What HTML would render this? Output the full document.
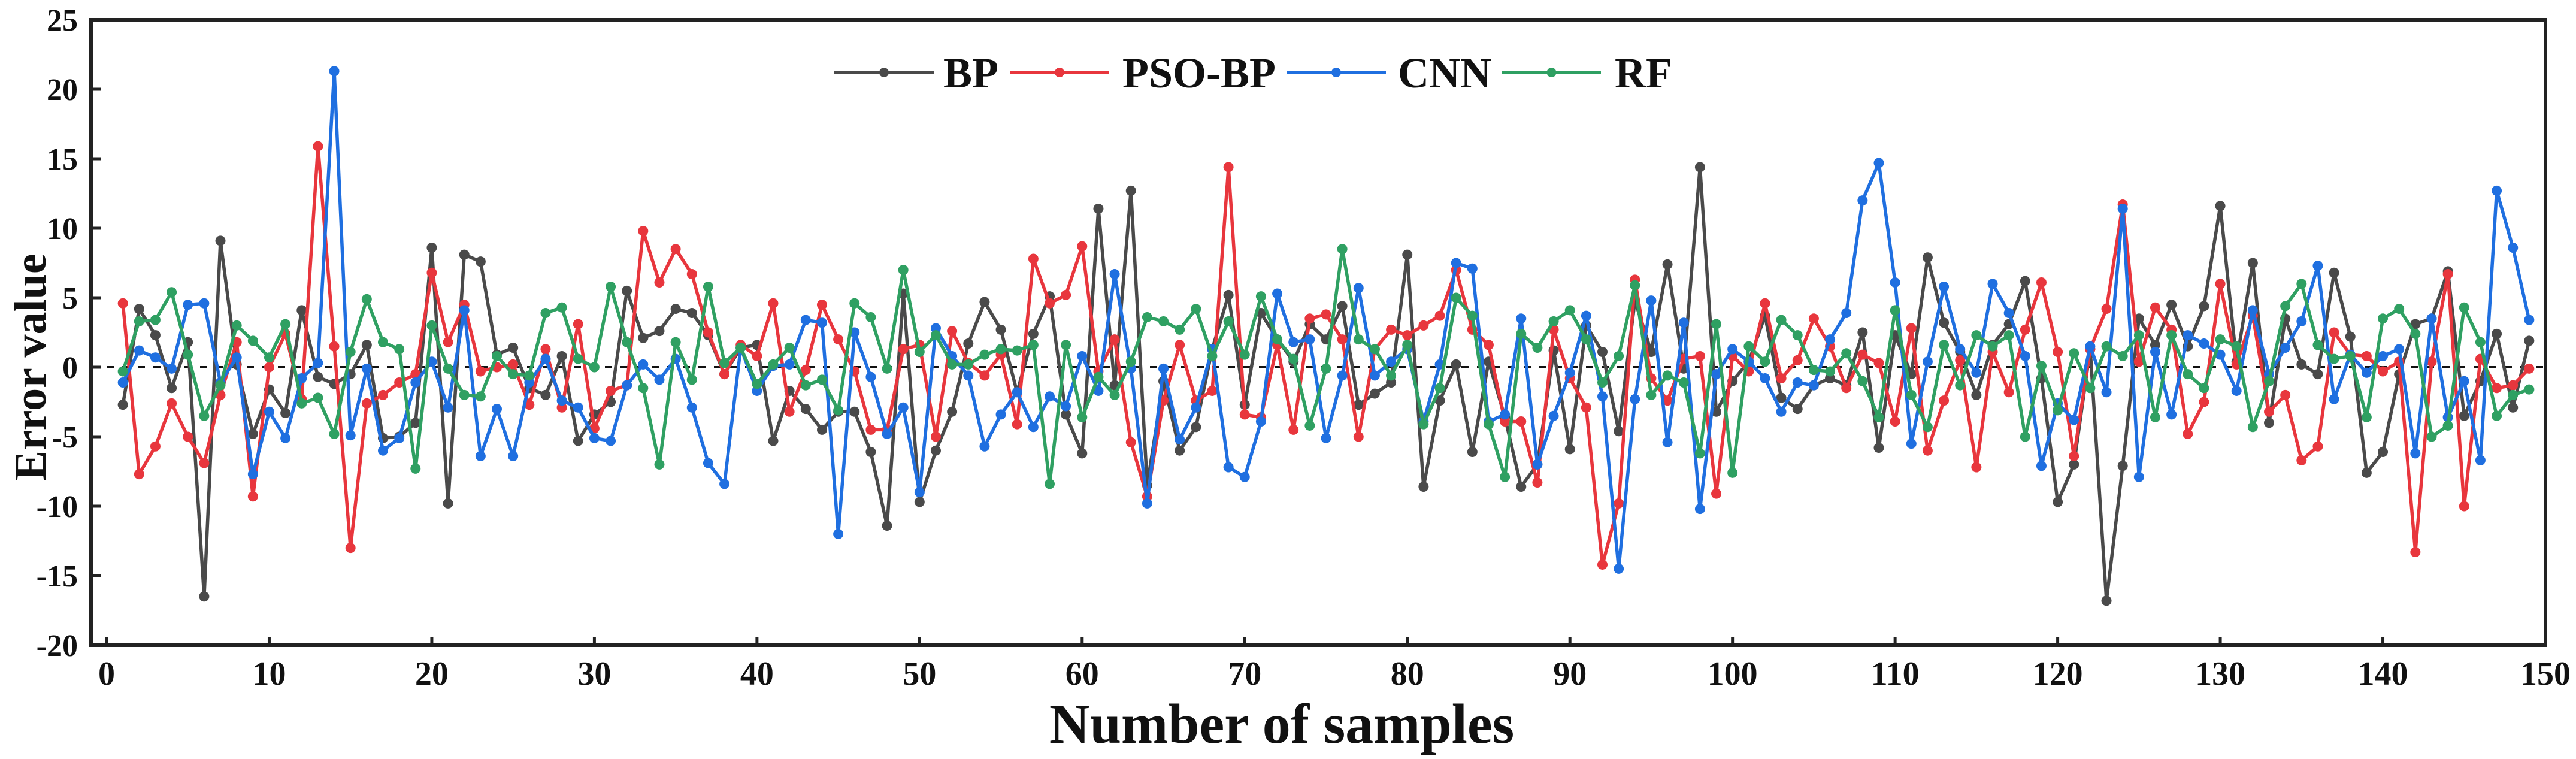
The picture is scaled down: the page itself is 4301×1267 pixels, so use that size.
<!DOCTYPE html>
<html><head><meta charset="utf-8">
<style>
html,body{margin:0;padding:0;background:#fff;}
svg{display:block;font-family:"Liberation Serif",serif;font-weight:bold;}
</style></head>
<body>
<svg id="chart" width="4301" height="1267" viewBox="0 0 4301 1267" xmlns="http://www.w3.org/2000/svg">
<rect width="4301" height="1267" fill="#fff"/>
<g id="axes"></g>
<g id="series"></g>
<g id="legend"></g>
</svg>
<script>
const samples = Array.from({length:149},(_, i)=>i+1);
const bpValues = [-2.7,4.2,2.3,-1.5,1.8,-16.5,9.1,0.2,-4.8,-1.6,-3.3,4.1,-0.7,-1.2,-0.5,1.6,-5.1,-5,-4,8.6,-9.8,8.1,7.6,0.9,
1.4,-1.5,-2,0.8,-5.3,-3.4,-2.5,5.5,2.1,2.6,4.2,3.9,2.3,-0.5,1.4,1.6,-5.3,-1.7,-3,-4.5,-3.2,-3.2,-6.1,-11.4,5.3,
-9.7,-6,-3.2,1.7,4.7,2.7,-1.8,2.4,5.1,-3.4,-6.2,11.4,-1.3,12.7,-8.5,-1,-6,-4.3,1.3,5.2,-2.7,3.9,2,0.4,3.1,
2,4.4,-2.7,-1.9,-1.1,8.1,-8.6,-2.4,0.2,-6.1,0.4,-3.6,-8.6,-7,1.2,-5.9,3,1.1,-4.6,4.8,1.1,7.4,-0.1,14.4,-3.2,
-1,0.4,3.7,-2.2,-3,-1.3,-0.8,-1.3,2.5,-5.8,2.3,-0.5,7.9,3.2,1.1,-2,1.6,3.1,6.2,-0.8,-9.7,-7,1.3,-16.8,
-7.1,3.5,1.6,4.5,1.5,4.4,11.6,0.4,7.5,-4,3.5,0.2,-0.5,6.8,2.2,-7.6,-6.1,-0.5,3.1,3.5,6.9,-3.5,-1,2.4,-2.9,1.9];
const psoValues = [4.6,-7.7,-5.7,-2.6,-5,-6.9,-2,1.8,-9.3,0,2.4,-2.3,15.9,1.5,-13,-2.6,-2,-1.1,-0.5,6.8,1.8,4.5,-0.3,0,
0.2,-2.7,1.3,-2.9,3.1,-4.4,-1.7,-1.3,9.8,6.1,8.5,6.7,2.5,-0.5,1.6,0.8,4.6,-3.2,-0.2,4.5,2,-0.3,-4.5,-4.5,1.3,
1.6,-5,2.6,0.3,-0.6,0.9,-4.1,7.8,4.6,5.2,8.7,-0.3,2,-5.4,-9.3,-2.4,1.6,-2.4,-1.7,14.4,-3.4,-3.6,1.6,-4.5,3.5,
3.8,2,-5,1.3,2.7,2.3,3,3.7,7,2.7,1.6,-3.9,-3.9,-8.3,2.7,-0.8,-2.9,-14.2,-9.8,6.3,-0.8,-2.4,0.6,0.8,-9.1,
0.8,-0.3,4.6,-0.8,0.5,3.5,1.5,-1.5,0.9,0.3,-3.9,2.8,-6,-2.4,0.5,-7.2,1.1,-1.8,2.7,6.1,1.1,-6.4,1.3,4.2,
11.7,0.4,4.3,2.7,-4.8,-2.5,6,0.2,3.7,-3.2,-2,-6.7,-5.7,2.5,0.9,0.8,-0.3,0.4,-13.3,0.4,6.7,-10,0.6,-1.5,-1.3,-0.1];
const cnnValues = [-1.1,1.2,0.7,-0.1,4.5,4.6,-1.1,0.7,-7.7,-3.2,-5.1,-0.8,0.3,21.3,-4.9,-0.1,-6,-5.1,-1.1,0.4,-2.9,4.1,-6.4,-3,
-6.4,-1.1,0.6,-2.4,-2.9,-5.1,-5.3,-1.3,0.2,-0.9,0.6,-2.9,-6.9,-8.4,1.4,-1.7,0.1,0.2,3.4,3.2,-12,2.5,-0.7,-4.8,-2.9,
-9,2.8,0.8,-0.6,-5.7,-3.4,-1.8,-4.3,-2.1,-2.8,0.8,-1.7,6.7,-0.1,-9.8,-0.1,-5.2,-2.9,1.3,-7.2,-7.9,-3.9,5.3,1.8,2,
-5.1,-0.6,5.7,-0.6,0.4,1.3,-3.9,0.2,7.5,7.1,-3.9,-3.4,3.5,-7,-3.5,-0.4,3.7,-2.1,-14.5,-2.3,4.8,-5.4,3.2,-10.2,-0.5,
1.3,0.4,-0.8,-3.2,-1.1,-1.3,2,3.9,12,14.7,6.1,-5.5,0.4,5.8,1.3,-0.4,6,3.9,0.8,-7.1,-2.6,-3.8,1.5,-1.8,
11.4,-7.9,1.1,-3.4,2.3,1.7,0.9,-1.7,4.1,-0.5,1.4,3.3,7.3,-2.3,0.9,-0.4,0.8,1.3,-6.2,3.5,-3.6,-1,-6.7,12.7,8.6,3.4];
const rfValues = [-0.3,3.3,3.4,5.4,0.9,-3.5,-1.3,3,1.9,0.7,3.1,-2.6,-2.2,-4.8,1.1,4.9,1.8,1.3,-7.3,3,-0.1,-2,-2.1,0.8,
-0.5,-0.6,3.9,4.3,0.6,0,5.8,1.8,-1.5,-7,1.8,-0.9,5.8,0.3,1.4,-1.2,0.2,1.4,-1.3,-0.9,-3.1,4.6,3.6,-0.1,7,
1.1,2.3,0.2,0.2,0.9,1.3,1.2,1.6,-8.4,1.6,-3.6,-0.7,-2,0.4,3.6,3.3,2.7,4.2,0.8,3.3,0.9,5.1,2,0.6,-4.2,
-0.1,8.5,2,1.3,-0.6,1.6,-4.1,-1.5,5,3.7,-4.1,-7.9,2.4,1.4,3.3,4.1,2,-1.1,0.8,5.9,-2,-0.6,-1.1,-6.2,3.1,
-7.6,1.5,0.4,3.4,2.3,-0.2,-0.3,1,-1,-3.6,4.1,-2,-4.3,1.6,-1.3,2.3,1.5,2.3,-5,0.1,-3.1,1,-1.5,1.5,
0.8,2.3,-3.6,2.3,-0.5,-1.5,2,1.5,-4.3,-1,4.4,6,1.6,0.6,0.8,-3.6,3.5,4.2,2.4,-5,-4.2,4.3,1.8,-3.5,-2,-1.6];
const xTicks = [0,10,20,30,40,50,60,70,80,90,100,110,120,130,140,150];
const yTicks = [-20,-15,-10,-5,0,5,10,15,20,25];
const seriesNames = ["BP","PSO-BP","CNN","RF"];

const NS="http://www.w3.org/2000/svg";
const L=152,R=4250,T=33,B=1077;
const xs=v=>178+v*(4250-178)/150;
const ys=v=>T+(25-v)*(B-T)/45;
function mk(tag,attrs,parent){const e=document.createElementNS(NS,tag);for(const k in attrs)e.setAttribute(k,attrs[k]);parent.appendChild(e);return e;}
const axes=document.getElementById('axes');
const zl=mk('line',{x1:xs(0),x2:xs(150),y1:ys(0),y2:ys(0),stroke:'#111','stroke-width':4,'stroke-dasharray':'12,14'},axes);


const fr=mk('rect',{x:L,y:T,width:R-L,height:B-T,fill:'none',stroke:'#222','stroke-width':6},axes);


xTicks.forEach(t=>{
  const tk=mk('line',{x1:xs(t),x2:xs(t),y1:B,y2:B-14,stroke:'#222','stroke-width':5},axes);
  
  
  const tx=mk('text',{x:xs(t),y:B+66,'text-anchor':'middle','font-size':56,fill:'#111'},axes);
  tx.textContent=t;
  
  
});
yTicks.forEach(t=>{
  const tk=mk('line',{x1:L,x2:L+16,y1:ys(t),y2:ys(t),stroke:'#222','stroke-width':5},axes);
  
  
  const tx=mk('text',{x:130,y:ys(t)+18,'text-anchor':'end','font-size':52,fill:'#111'},axes);
  tx.textContent=t;
  
  
});
const xt=mk('text',{x:2140,y:1240,'text-anchor':'middle','font-size':94,fill:'#111'},axes);
xt.textContent='Number of samples';


const yt=mk('text',{x:0,y:0,'text-anchor':'middle','font-size':76,fill:'#111',transform:'translate(76,'+ys(0)+') rotate(-90)'},axes);
yt.textContent='Error value';



const colors=['#4a4a4a','#e8363d','#1f6fe0','#2fa062'];
const data=[bpValues,psoValues,cnnValues,rfValues];
const sg=document.getElementById('series');
data.forEach((vals,si)=>{
  const g=mk('g',{},sg);
  
  
  const pts=vals.map((v,i)=>xs(samples[i])+','+ys(v)).join(' ');
  const pl=mk('polyline',{points:pts,fill:'none',stroke:colors[si],'stroke-width':5.5,'stroke-linejoin':'round'},g);
  
  
  vals.forEach((v,i)=>{
    const c=mk('circle',{cx:xs(samples[i]),cy:ys(v),r:8.5,fill:colors[si]},g);
    
    
  });
});
const lg=document.getElementById('legend');
const legItems=[[1392,1560,1575],[1686,1852,1874],[2148,2314,2334],[2508,2673,2696]];
legItems.forEach((it,i)=>{
  const g=mk('g',{},lg);
  
  
  mk('line',{x1:it[0],x2:it[1],y1:121,y2:121,stroke:colors[i],'stroke-width':5},g);
  mk('circle',{cx:(it[0]+it[1])/2,cy:121,r:8,fill:colors[i]},g);
  const t=mk('text',{x:it[2],y:146,'font-size':72,fill:'#111'},g);
  t.textContent=seriesNames[i];
});
</script>
</body></html>
